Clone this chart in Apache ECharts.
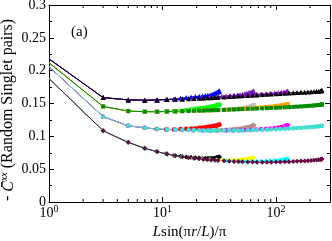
<!DOCTYPE html>
<html><head><meta charset="utf-8">
<script src="https://cdn.jsdelivr.net/npm/echarts@6/dist/echarts.min.js"></script>
<style>html,body{margin:0;padding:0;background:#fff}#c{width:332px;height:241px}</style>
</head><body><div id="c"></div>
<script>
// x positions (chord distance) for each system size
const xL100 = [1.0, 3.0, 4.98, 6.94, 8.88, 10.78, 12.64, 14.45, 16.2, 17.89, 19.51, 21.05, 22.51, 23.88, 25.15, 26.33, 27.4, 28.36, 29.21, 29.95, 30.57, 31.06, 31.44, 31.69, 31.81];
const xL200 = [1.0, 3.0, 5.0, 6.98, 8.97, 10.94, 12.91, 14.86, 18.72, 22.5, 26.2, 29.79, 33.26, 36.6, 39.8, 42.84, 45.71, 48.41, 50.91, 53.21, 55.3, 57.17, 58.81, 60.23, 61.41, 62.34, 63.02, 63.46, 63.65];
const xL400 = [1.0, 3.0, 5.0, 7.0, 8.99, 10.98, 12.97, 14.96, 18.93, 22.87, 26.8, 30.7, 36.48, 42.18, 47.8, 53.31, 60.48, 67.38, 74.03, 81.88, 89.32, 97.49, 104.8, 112.0, 118.0, 123.1, 126.2, 127.3];
const xL800 = [1, 3, 5, 7, 9, 11, 13, 15, 17, 19, 21, 23, 24.96, 26.95, 28.94, 30.92, 34.89, 38.85, 42.8, 46.73, 50.66, 56.53, 62.36, 68.16, 75.83, 83.43, 90.95, 100.2, 109.3, 120.0, 130.5, 142.3, 153.7, 166.2, 179.3, 191.7, 204.2, 216.6, 228.2, 238.5, 247.4, 253.0, 254.6];

// family 1 (top)
const yF1L100 = [0.218, 0.159, 0.1555, 0.155, 0.1555, 0.156, 0.157, 0.158, 0.159, 0.160, 0.1605, 0.161, 0.1615, 0.162, 0.1625, 0.163, 0.164, 0.165, 0.166, 0.1665, 0.167, 0.168, 0.1685, 0.169, 0.169];
const yF1L200 = [0.218, 0.159, 0.1555, 0.155, 0.1555, 0.156, 0.1565, 0.157, 0.158, 0.159, 0.1598, 0.1605, 0.161, 0.1615, 0.162, 0.1625, 0.163, 0.1635, 0.164, 0.1648, 0.1655, 0.166, 0.1665, 0.167, 0.1675, 0.168, 0.168, 0.1685, 0.1685];
const yF1L400 = [0.218, 0.159, 0.1555, 0.155, 0.1555, 0.156, 0.1565, 0.157, 0.1576, 0.1583, 0.159, 0.1597, 0.1606, 0.1615, 0.1622, 0.163, 0.1635, 0.164, 0.1645, 0.165, 0.1655, 0.166, 0.1665, 0.167, 0.1675, 0.168, 0.1685, 0.1685];
const yF1L800 = [0.218, 0.159, 0.1555, 0.155, 0.1555, 0.156, 0.1565, 0.157, 0.1573, 0.1576, 0.158, 0.1583, 0.1586, 0.1589, 0.1592, 0.1595, 0.16, 0.1605, 0.161, 0.1614, 0.1618, 0.1623, 0.1627, 0.1631, 0.1636, 0.164, 0.1644, 0.1648, 0.1652, 0.1656, 0.166, 0.1664, 0.1667, 0.167, 0.1673, 0.1676, 0.1679, 0.1682, 0.1685, 0.1688, 0.1692, 0.1696, 0.170];
// family 2
const yF2L100 = [0.212, 0.1455, 0.1385, 0.1375, 0.1375, 0.1378, 0.1385, 0.139, 0.140, 0.141, 0.142, 0.1425, 0.143, 0.1437, 0.1443, 0.145, 0.1455, 0.146, 0.1465, 0.147, 0.1473, 0.1476, 0.148, 0.148, 0.148];
const yF2L200 = [0.212, 0.1455, 0.1385, 0.1375, 0.1375, 0.1378, 0.138, 0.1383, 0.1389, 0.1394, 0.1398, 0.140, 0.1405, 0.141, 0.1413, 0.1418, 0.142, 0.1425, 0.143, 0.1435, 0.144, 0.1445, 0.145, 0.1455, 0.146, 0.1465, 0.147, 0.1475, 0.1475];
const yF2L400 = [0.212, 0.1455, 0.1385, 0.1375, 0.1375, 0.1378, 0.138, 0.1383, 0.1389, 0.1393, 0.1397, 0.140, 0.1405, 0.1412, 0.1418, 0.1423, 0.143, 0.1435, 0.144, 0.1447, 0.1453, 0.146, 0.1467, 0.1473, 0.148, 0.1485, 0.149, 0.149];
const yF2L800 = [0.212, 0.1455, 0.1385, 0.1375, 0.1375, 0.1378, 0.138, 0.1383, 0.1386, 0.1389, 0.139, 0.1393, 0.1395, 0.1397, 0.1399, 0.140, 0.1403, 0.1406, 0.1409, 0.1412, 0.1415, 0.1418, 0.142, 0.1423, 0.1426, 0.1429, 0.1432, 0.1435, 0.1438, 0.1442, 0.1445, 0.1449, 0.1452, 0.1456, 0.146, 0.1463, 0.1467, 0.147, 0.1474, 0.1477, 0.148, 0.1483, 0.1487];
// family 3
const yF3L100 = [0.206, 0.130, 0.116, 0.113, 0.111, 0.1105, 0.1105, 0.111, 0.1115, 0.112, 0.1125, 0.113, 0.1135, 0.114, 0.1145, 0.115, 0.1155, 0.116, 0.1163, 0.1166, 0.117, 0.1172, 0.1175, 0.1178, 0.118];
const yF3L200 = [0.206, 0.130, 0.116, 0.113, 0.111, 0.1105, 0.110, 0.1098, 0.1093, 0.109, 0.109, 0.1092, 0.1095, 0.110, 0.1105, 0.111, 0.1115, 0.112, 0.1125, 0.113, 0.1135, 0.114, 0.1145, 0.115, 0.1155, 0.116, 0.1165, 0.117, 0.117];
const yF3L400 = [0.206, 0.130, 0.116, 0.113, 0.111, 0.1105, 0.110, 0.1098, 0.1093, 0.109, 0.1088, 0.1088, 0.1089, 0.109, 0.1093, 0.1097, 0.110, 0.1105, 0.111, 0.1115, 0.112, 0.1127, 0.1135, 0.1143, 0.115, 0.116, 0.117, 0.117];
const yF3L800 = [0.206, 0.130, 0.116, 0.113, 0.111, 0.1105, 0.110, 0.1098, 0.1095, 0.1093, 0.1091, 0.109, 0.1089, 0.1088, 0.1088, 0.1087, 0.1087, 0.1087, 0.1088, 0.1089, 0.109, 0.1092, 0.1094, 0.1096, 0.1099, 0.1102, 0.1105, 0.1108, 0.1111, 0.1115, 0.1118, 0.1122, 0.1126, 0.113, 0.1134, 0.1138, 0.1142, 0.1146, 0.115, 0.1153, 0.1156, 0.1159, 0.116];
// family 4 (bottom)
const yF4L100 = [0.188, 0.1085, 0.0908, 0.0817, 0.0768, 0.0733, 0.071, 0.0695, 0.0685, 0.068, 0.0675, 0.067, 0.0668, 0.0666, 0.0665, 0.0665, 0.0666, 0.0668, 0.067, 0.0673, 0.0676, 0.068, 0.0683, 0.0685, 0.0687];
const yF4L200 = [0.188, 0.1085, 0.0908, 0.0817, 0.0766, 0.073, 0.0705, 0.0688, 0.0667, 0.0653, 0.0645, 0.064, 0.0638, 0.0637, 0.0637, 0.0638, 0.064, 0.0643, 0.0646, 0.065, 0.0653, 0.0657, 0.066, 0.0664, 0.0667, 0.067, 0.0672, 0.0675, 0.0675];
const yF4L400 = [0.188, 0.1085, 0.0908, 0.0817, 0.0766, 0.073, 0.0705, 0.0688, 0.0666, 0.0651, 0.0641, 0.0634, 0.0626, 0.0619, 0.0617, 0.0617, 0.0618, 0.062, 0.0622, 0.0625, 0.0628, 0.0632, 0.0637, 0.0642, 0.0647, 0.065, 0.0653, 0.0655];
const yF4L800 = [0.188, 0.1085, 0.0908, 0.0817, 0.0766, 0.073, 0.0705, 0.0688, 0.0675, 0.0665, 0.0657, 0.065, 0.0645, 0.064, 0.0636, 0.0633, 0.0627, 0.0622, 0.0618, 0.0615, 0.0612, 0.061, 0.0608, 0.0607, 0.0606, 0.0606, 0.0607, 0.0608, 0.061, 0.0612, 0.0614, 0.0617, 0.062, 0.0623, 0.0626, 0.063, 0.0633, 0.0637, 0.064, 0.0644, 0.0648, 0.0652, 0.0655];

const xTickExponents = [0, 1, 2];
const xMinorTicks = [2, 3, 4, 5, 6, 7, 8, 9, 20, 30, 40, 50, 60, 70, 80, 90, 200];

// styling (kept separate from data)
const FONT = '"Liberation Serif", "Times New Roman", serif';
const specs = [
  // shorter systems first, largest drawn on top
  [xL100, yF1L100, '#0000ff', 'triangle'],
  [xL200, yF1L200, '#7221bc', 'triangle'],
  [xL400, yF1L400, '#9400d3', 'triangle'],
  [xL100, yF2L100, '#00ff00', 'rect'],
  [xL200, yF2L200, '#bebebe', 'rect'],
  [xL400, yF2L400, '#ffa500', 'rect'],
  [xL100, yF3L100, '#ff0000', 'circle'],
  [xL200, yF3L200, '#bc8f8f', 'circle'],
  [xL400, yF3L400, '#ff00ff', 'circle'],
  [xL100, yF4L100, '#000000', 'diamond'],
  [xL200, yF4L200, '#ffff00', 'diamond'],
  [xL400, yF4L400, '#00ffff', 'diamond'],
  [xL800, yF1L800, '#000000', 'triangle'],
  [xL800, yF2L800, '#008b00', 'rect'],
  [xL800, yF3L800, '#40e0d0', 'circle'],
  [xL800, yF4L800, '#670748', 'diamond']
];
const symSizes = { triangle: 5, rect: 4, circle: 4.5, diamond: 5 };

const series = specs.map(([xs, ys, color, sym]) => ({
  type: 'line',
  xAxisIndex: 0, yAxisIndex: 0,
  data: xs.map((x, i) => ({ value: [x, ys[i]], symbolSize: x <= 1.0001 ? 0 : symSizes[sym] })),
  symbol: sym,
  symbolSize: symSizes[sym],
  showSymbol: true,
  lineStyle: { color: color, width: 1 },
  itemStyle: { color: color },
  emphasis: { disabled: true },
  animation: false
}));

series.push({
  type: 'custom',
  xAxisIndex: 0, yAxisIndex: 0,
  silent: true,
  clip: false,
  z: 10,
  data: xMinorTicks.map(v => [v, 0]),
  renderItem: function (params, api) {
    const v = api.value(0);
    const b = api.coord([v, 0]);
    const t = api.coord([v, 0.3]);
    return {
      type: 'group',
      children: [
        { type: 'line', shape: { x1: b[0], y1: b[1], x2: b[0], y2: b[1] - 3 }, style: { stroke: '#000', lineWidth: 1 } },
        { type: 'line', shape: { x1: t[0], y1: t[1], x2: t[0], y2: t[1] + 3 }, style: { stroke: '#000', lineWidth: 1 } }
      ]
    };
  }
});

function xLabel(v) {
  const e = Math.round(Math.log10(v));
  if (xTickExponents.indexOf(e) < 0 || Math.abs(Math.pow(10, e) - v) > 1e-6 * v) return '';
  return '{b|10}{s|' + e + '}';
}

const axisCommonX = {
  type: 'log', logBase: 10, min: 1, max: 300,
  axisLine: { show: true, onZero: false, lineStyle: { color: '#000', width: 1 } },
  axisTick: { show: true, inside: true, length: 5, lineStyle: { color: '#000', width: 1 } },
  splitLine: { show: false },
  minorTick: { show: false },
  minorSplitLine: { show: false }
};
const axisCommonY = {
  type: 'value', min: 0, max: 0.3, interval: 0.05,
  axisLine: { show: true, onZero: false, lineStyle: { color: '#000', width: 1 } },
  axisTick: { show: true, inside: true, length: 5, lineStyle: { color: '#000', width: 1 } },
  minorTick: { show: true, splitNumber: 2, length: 3, lineStyle: { color: '#000', width: 1 } },
  splitLine: { show: false },
  minorSplitLine: { show: false }
};

const option = {
  backgroundColor: '#fff',
  animation: false,
  grid: { left: 49, right: 2, top: 5, bottom: 39, containLabel: false, outerBoundsMode: 'none' },
  xAxis: [
    Object.assign({}, axisCommonX, {
      position: 'bottom',
      axisLabel: {
        show: true, margin: 2, formatter: xLabel, color: '#000',
        rich: {
          b: { fontFamily: FONT, fontSize: 14, color: '#000', verticalAlign: 'bottom', lineHeight: 16 },
          s: { fontFamily: FONT, fontSize: 10, color: '#000', verticalAlign: 'top', lineHeight: 16 }
        }
      },
      name: '{i|L}sin(π{i|r}/{i|L})/π',
      nameLocation: 'middle',
      nameGap: 16,
      nameTextStyle: {
        fontFamily: FONT, fontSize: 15, color: '#000',
        rich: { i: { fontFamily: FONT, fontSize: 15, fontStyle: 'italic', color: '#000' } }
      }
    }),
    Object.assign({}, axisCommonX, { position: 'top', axisLabel: { show: false } })
  ],
  yAxis: [
    Object.assign({}, axisCommonY, {
      position: 'left',
      axisLabel: { show: true, margin: 3, color: '#000', fontFamily: FONT, fontSize: 14 }
    }),
    Object.assign({}, axisCommonY, { position: 'right', axisLabel: { show: false } })
  ],
  graphic: [
    {
      type: 'text', x: 8, y: 110, rotation: Math.PI / 2,
      style: {
        text: '- {c|C\u0304}{s|xx} (Random Singlet pairs)',
        fontFamily: FONT, fontSize: 16, fill: '#000',
        align: 'center', verticalAlign: 'middle',
        rich: {
          c: { fontFamily: FONT, fontSize: 16, fontStyle: 'italic', fill: '#000', verticalAlign: 'bottom', lineHeight: 18 },
          s: { fontFamily: FONT, fontSize: 10, fontStyle: 'italic', fill: '#000', verticalAlign: 'top', lineHeight: 18 }
        }
      }
    },
    {
      type: 'text', left: 71, top: 25,
      style: { text: '(a)', fontFamily: FONT, fontSize: 15, fill: '#000' }
    }
  ],
  series: series
};

const chart = echarts.init(document.getElementById('c'), null, { renderer: 'canvas' });
chart.setOption(option);
</script>
</body></html>
